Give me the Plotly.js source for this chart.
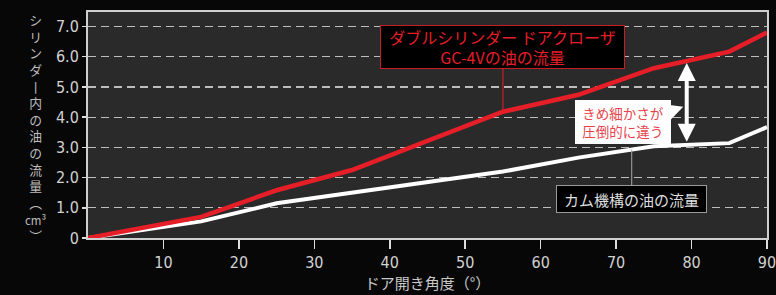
<!DOCTYPE html>
<html>
<head>
<meta charset="utf-8">
<script src="https://cdn.plot.ly/plotly-3.0.1.min.js"></script>
<style>
html,body{margin:0;padding:0;background:#070707;}
#chart{width:776px;height:295px;}
</style>
</head>
<body>
<div id="chart"></div>
<script>
// Door opening angle (deg) and oil flow (cm3)
const redAngles = [0, 15, 25, 35, 55, 65, 75, 85, 90];
const redFlow   = [0, 0.70, 1.58, 2.25, 4.18, 4.74, 5.62, 6.17, 6.80];
const whiteAngles = [0, 15, 25, 55, 65, 75, 85, 90];
const whiteFlow   = [0, 0.55, 1.15, 2.20, 2.66, 3.04, 3.14, 3.67];
const xTickVals = [10, 20, 30, 40, 50, 60, 70, 80, 90];
const xTickText = ['10','20','30','40','50','60','70','80','90'];
const yTickVals = [0, 1, 2, 3, 4, 5, 6, 7];
const yTickText = ['0','1.0','2.0','3.0','4.0','5.0','6.0','7.0'];
const redLabel = 'ダブルシリンダー ドアクローザ<br>GC-4Vの油の流量';
const whiteLabel = 'カム機構の油の流量';
const noteLabel = 'きめ細かさが<br>圧倒的に違う';
const yTitleChars = ['シ','リ','ン','ダ','丨','内','の','油','の','流','量','︵','<span style="font-size:11.5px">cm³</span>','︶'];
const xTitle = 'ドア開き角度（°）';

const RED = '#e61e27';
const tickFont = {family: '"DejaVu Sans Condensed", "DejaVu Sans", sans-serif', size: 16, color: '#d2d2d2'};
const jp = '"Noto Sans CJK JP", "Noto Sans", sans-serif';

const traces = [
  {x: whiteAngles, y: whiteFlow, mode: 'lines', line: {color: '#ffffff', width: 4}, hoverinfo: 'skip'},
  {x: redAngles, y: redFlow, mode: 'lines', line: {color: RED, width: 4.5}, hoverinfo: 'skip'}
];

const layout = {
  width: 776, height: 295,
  margin: {l: 88, r: 9, t: 12, b: 57},
  paper_bgcolor: '#070707',
  plot_bgcolor: '#2a2a2a',
  showlegend: false,
  xaxis: {
    range: [0, 90], tickvals: xTickVals, ticktext: xTickText,
    ticks: 'outside', ticklen: 9, tickwidth: 1.5, tickcolor: '#dddddd',
    showline: true, linecolor: '#cfcfcf', linewidth: 2, mirror: true,
    showgrid: false, zeroline: false, tickfont: tickFont,
    ticklabeloverflow: 'allow',
    title: {text: xTitle, font: {family: jp, size: 15, color: '#c8c8c8'}, standoff: 5}
  },
  yaxis: {
    range: [0, 7.48], tickvals: yTickVals, ticktext: yTickText,
    ticks: 'outside', ticklen: 4, tickwidth: 1.5, tickcolor: '#dddddd',
    showline: true, linecolor: '#cfcfcf', linewidth: 2, mirror: true,
    showgrid: true, gridcolor: '#bdbdbd', gridwidth: 1.2, griddash: '8px,5px',
    zeroline: false, tickfont: tickFont
  },
  shapes: [
    {type: 'path', xref: 'x', yref: 'y',
     path: 'M77.1,4.40 L78.9,4.34 L77.1,3.88 Z',
     fillcolor: '#ffffff', line: {width: 0}}
  ],
  annotations: [
    {x: 55, y: 4.18, ax: 0, ay: -65, showarrow: true, arrowhead: 0, arrowwidth: 1, arrowcolor: RED,
     text: redLabel, font: {family: jp, size: 16, color: RED},
     bgcolor: '#000000', bordercolor: '#c81c24', borderwidth: 1, borderpad: 0,
     width: 243, height: 42, align: 'center'},
    {x: 72.07, y: 2.93, ax: 0, ay: 49.5, showarrow: true, arrowhead: 0, arrowwidth: 1, arrowcolor: '#aaaaaa',
     text: whiteLabel, font: {family: jp, size: 15, color: '#dedede'},
     bgcolor: '#000000', bordercolor: '#9a9a9a', borderwidth: 1, borderpad: 0,
     width: 149, height: 26, align: 'center'},
    {x: 70.96, y: 3.85, showarrow: false,
     text: noteLabel, font: {family: jp, size: 13.5, color: '#e8434b'},
     bgcolor: '#ffffff', borderpad: 0, borderwidth: 0,
     width: 96, height: 44, align: 'center'},
    {x: 79.36, y: 5.79, ax: 79.36, ay: 3.14, axref: 'x', ayref: 'y', xref: 'x', yref: 'y',
     showarrow: true, arrowside: 'end+start', arrowhead: 2, arrowsize: 0.9, arrowwidth: 4,
     arrowcolor: '#ffffff', text: '', standoff: 0, startstandoff: 0},
    {xref: 'paper', yref: 'paper', x: -0.0765, y: 0.487, xanchor: 'center', yanchor: 'middle',
     showarrow: false, text: yTitleChars.join('<br>'), align: 'center', borderpad: 0,
     font: {family: jp, size: 12.8, color: '#bdbdbd'}}
  ]
};

Plotly.newPlot('chart', traces, layout, {staticPlot: true, displayModeBar: false});
</script>
</body>
</html>
